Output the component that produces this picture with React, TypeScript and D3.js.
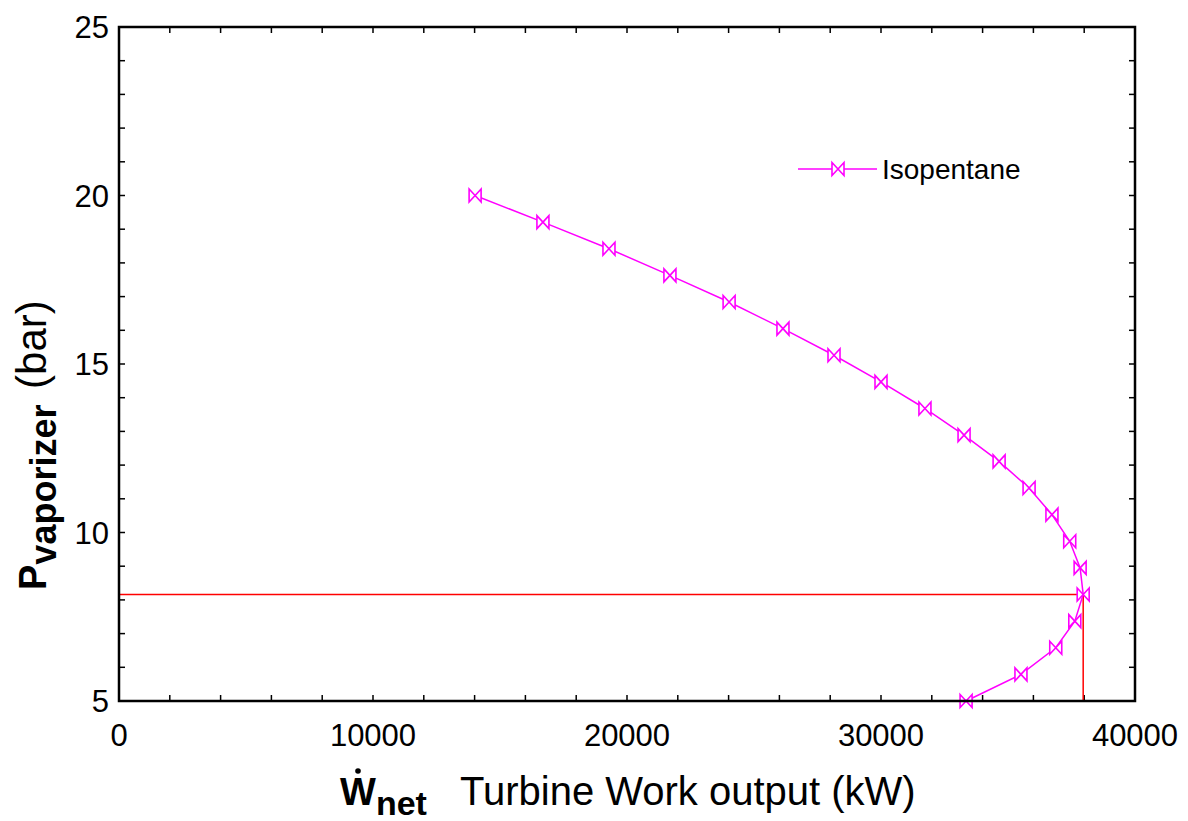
import React from "react";
import * as d3 from "d3";

// Isopentane cycle: vaporizer pressure vs. net turbine work output
const pressureBar = [
  20.0, 19.21, 18.42, 17.63, 16.84, 16.05, 15.26, 14.47, 13.68, 12.89,
  12.11, 11.32, 10.53, 9.74, 8.95, 8.16, 7.37, 6.58, 5.79, 5.0,
];
const workKW = [
  14020, 16690, 19290, 21690, 24020, 26140, 28150, 30000, 31730, 33270,
  34650, 35830, 36730, 37430, 37840, 37960, 37630, 36880, 35510, 33350,
];
const seriesName = "Isopentane";
const xTicks = [0, 10000, 20000, 30000, 40000];
const yTicks = [5, 10, 15, 20, 25];

const W = 1188;
const H = 821;
const left = 119;
const right = 1135;
const top = 27;
const bottom = 701;

const MAGENTA = "#ff00ff";
const RED = "#ff0000";
const FONT = "Liberation Sans, Arial, Helvetica, sans-serif";

function Bowtie({ x, y }: { x: number; y: number }) {
  const hw = 6;
  const hh = 6.5;
  return (
    <path
      d={`M${x - hw},${y - hh}L${x - hw},${y + hh}L${x + hw},${y - hh}L${x + hw},${y + hh}Z`}
      fill="#fff"
      stroke={MAGENTA}
      strokeWidth={1.6}
    />
  );
}

export default function App() {
  const x = d3.scaleLinear().domain([0, 40000]).range([left, right]);
  const y = d3.scaleLinear().domain([5, 25]).range([bottom, top]);

  const pts = workKW.map((w, i) => [x(w), y(pressureBar[i])] as [number, number]);
  const line = d3.line()(pts) ?? "";

  // optimum operating point (maximum work)
  const iMax = d3.maxIndex(workKW);
  const optX = x(workKW[iMax]);
  const optY = y(pressureBar[iMax]);

  const minorX = d3.range(0, 40001, 2000);
  const minorY = d3.range(5, 25.001, 1);
  const tl = 6;

  const legendY = 169;

  return (
    <svg
      width={W}
      height={H}
      style={{ position: "absolute", left: 0, top: 0, background: "#fff" }}
      fontFamily={FONT}
    >
      <rect x={0} y={0} width={W} height={H} fill="#fff" />

      {/* ticks */}
      <g stroke="#000" strokeWidth={1.5}>
        {minorX.map((v) => (
          <g key={"x" + v}>
            <line x1={x(v)} x2={x(v)} y1={bottom} y2={bottom - tl} />
            <line x1={x(v)} x2={x(v)} y1={top} y2={top + tl} />
          </g>
        ))}
        {minorY.map((v) => (
          <g key={"y" + v}>
            <line x1={left} x2={left + tl} y1={y(v)} y2={y(v)} />
            <line x1={right} x2={right - tl} y1={y(v)} y2={y(v)} />
          </g>
        ))}
      </g>

      {/* optimum guide lines */}
      <line x1={left} x2={optX} y1={optY} y2={optY} stroke={RED} strokeWidth={1.5} />
      <line x1={optX} x2={optX} y1={optY} y2={bottom} stroke={RED} strokeWidth={1.5} />

      {/* series */}
      <path d={line} fill="none" stroke={MAGENTA} strokeWidth={1.5} />
      {pts.map(([px, py], i) => (
        <Bowtie key={i} x={px} y={py} />
      ))}

      {/* frame */}
      <rect
        x={left}
        y={top}
        width={right - left}
        height={bottom - top}
        fill="none"
        stroke="#000"
        strokeWidth={2.5}
      />

      {/* tick labels */}
      <g fontSize={31} fill="#000">
        {xTicks.map((v) => (
          <text key={"xl" + v} x={x(v)} y={bottom + 45} textAnchor="middle">
            {v}
          </text>
        ))}
        {yTicks.map((v) => (
          <text key={"yl" + v} x={left - 10} y={y(v) + 11} textAnchor="end">
            {v}
          </text>
        ))}
      </g>

      {/* legend */}
      <line x1={798} x2={877} y1={legendY} y2={legendY} stroke={MAGENTA} strokeWidth={1.5} />
      <Bowtie x={838} y={legendY} />
      <text x={882} y={legendY + 10} fontSize={28} fill="#000">
        {seriesName}
      </text>

      {/* x-axis title */}
      <g fill="#000">
        <text x={340} y={805} fontSize={38} fontWeight="bold">
          W
          <tspan fontSize={34} dy={10}>net</tspan>
        </text>
        <circle cx={358} cy={771} r={2.8} />
        <text x={460} y={805} fontSize={40}>
          Turbine Work output (kW)
        </text>
      </g>

      {/* y-axis title */}
      <text
        transform="translate(46,590) rotate(-90)"
        fontSize={38}
        fill="#000"
      >
        <tspan fontWeight="bold">P</tspan>
        <tspan fontWeight="bold" fontSize={36} dy={10}>vaporizer</tspan>
        <tspan dy={-10} dx={4} fontSize={42}> (bar)</tspan>
      </text>
    </svg>
  );
}
